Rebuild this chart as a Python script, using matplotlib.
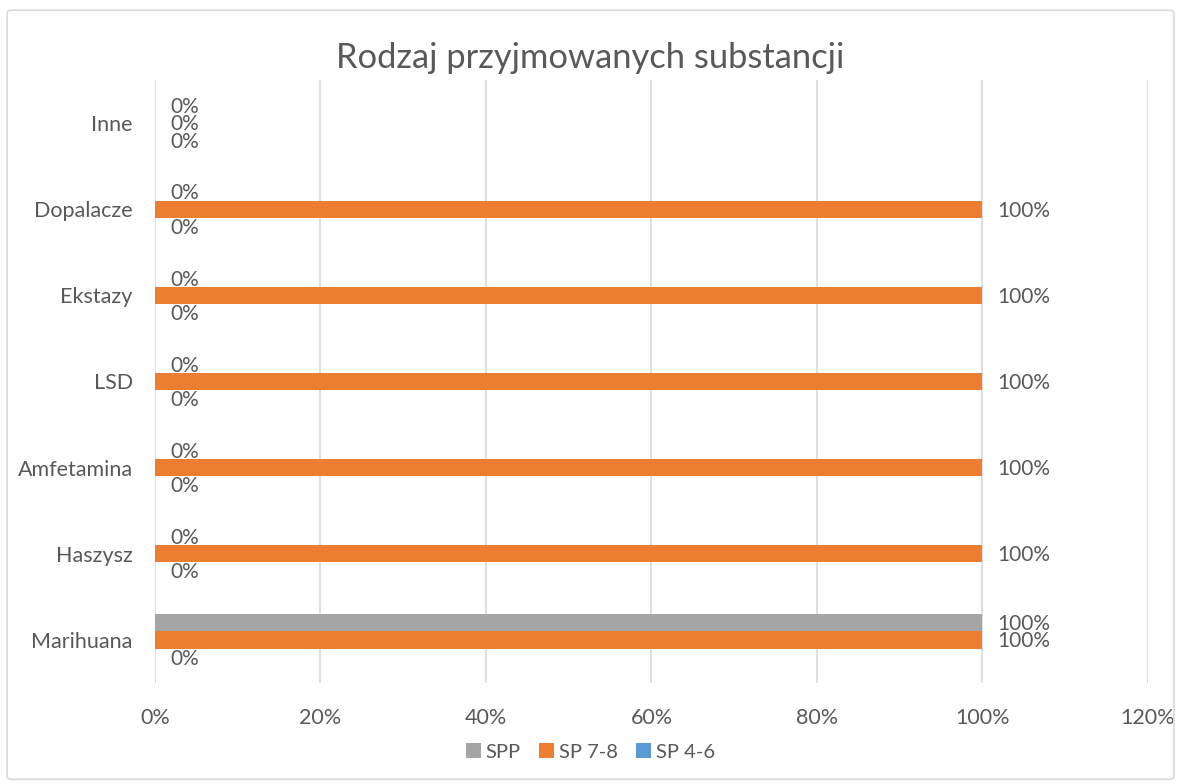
import matplotlib.pyplot as plt
import numpy as np
from matplotlib.patches import FancyBboxPatch
from matplotlib.ticker import FuncFormatter

plt.rcParams['font.family'] = ['Lato', 'DejaVu Sans']

# data (bottom to top)
categories = ['Marihuana', 'Haszysz', 'Amfetamina', 'LSD', 'Ekstazy', 'Dopalacze', 'Inne']
spp = [1.0, 0, 0, 0, 0, 0, 0]
sp78 = [1.0, 1.0, 1.0, 1.0, 1.0, 1.0, 0]
sp46 = [0, 0, 0, 0, 0, 0, 0]

series = [('SPP', spp, '#A5A5A5', 0.2),
          ('SP 7-8', sp78, '#ED7D31', 0.0),
          ('SP 4-6', sp46, '#5B9BD5', -0.2)]

txt = '#595959'
fig = plt.figure(figsize=(11.81, 7.84), dpi=100)
fig.patches.append(FancyBboxPatch((0.006, 0.006), 0.988, 0.981, boxstyle='round,pad=0,rounding_size=0.004',
                                  transform=fig.transFigure, fc='none', ec='#d9d9d9', lw=1.2))
ax = fig.add_axes([0.1312, 0.1288, 0.8408, 0.7692])

y = np.arange(len(categories))
h = 0.2
for name, vals, col, off in series:
    ax.barh(y + off, vals, height=h, color=col, label=name, zorder=3)
    for yi, v in zip(y, vals):
        ax.annotate(f'{v:.0%}', (v, yi + off), xytext=(11, -1), textcoords='offset points',
                    ha='left', va='center', fontsize=15, color=txt)

ax.set_xlim(0, 1.2)
ax.set_ylim(-0.5, 6.5)
ax.set_xticks(np.arange(0, 1.21, 0.2))
ax.xaxis.set_major_formatter(FuncFormatter(lambda v, p: f'{v:.0%}'))
ax.set_yticks(y)
ax.set_yticklabels(categories)
ax.tick_params(length=0, labelsize=15.5, colors=txt)
ax.tick_params(axis='x', pad=18)
ax.tick_params(axis='y', pad=16)
ax.grid(axis='x', color='#d9d9d9', lw=1.2, zorder=0)
for s in ax.spines.values():
    s.set_visible(False)

fig.suptitle('Rodzaj przyjmowanych substancji', y=0.926, va='center', fontsize=24.8, color=txt)

h_, l_ = ax.get_legend_handles_labels()
fig.legend(h_, l_, loc='center', bbox_to_anchor=(0.5, 0.041), ncol=3, frameon=False,
           fontsize=14.5, handlelength=0.75, handleheight=0.75, handletextpad=0.25, columnspacing=0.9,
           labelcolor=txt)

fig.savefig('out.png', dpi=100)
